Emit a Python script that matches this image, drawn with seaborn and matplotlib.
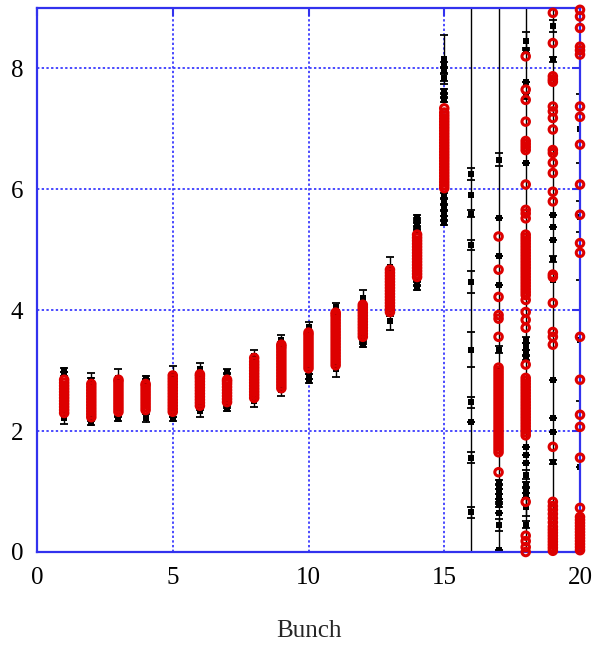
import matplotlib
matplotlib.use("Agg")
import matplotlib.pyplot as plt
import pandas as pd
import seaborn as sns

# ---------------------------------------------------------------------------
# Data: per-bunch measurements
# red_*   : values of the second method (open red circles)
# black_* : (value, error) pairs of the first method (black squares + error bars)
# ---------------------------------------------------------------------------
bunches = list(range(1, 21))

red_01 = [2.30, 2.35, 2.40, 2.45, 2.50, 2.55, 2.60, 2.65, 2.70, 2.75, 2.80, 2.85]
red_02 = [2.23, 2.28, 2.33, 2.38, 2.43, 2.48, 2.53, 2.58, 2.63, 2.68, 2.73, 2.78]
red_03 = [2.32, 2.37, 2.42, 2.47, 2.52, 2.57, 2.62, 2.67, 2.72, 2.77, 2.82, 2.85]
red_04 = [2.35, 2.40, 2.45, 2.50, 2.55, 2.60, 2.65, 2.70, 2.75, 2.78]
red_05 = [2.32, 2.37, 2.42, 2.47, 2.52, 2.57, 2.62, 2.67, 2.72, 2.77, 2.82, 2.87, 2.92]
red_06 = [2.42, 2.47, 2.52, 2.57, 2.62, 2.67, 2.72, 2.77, 2.82, 2.87, 2.91, 2.94]
red_07 = [2.48, 2.53, 2.58, 2.63, 2.68, 2.73, 2.78, 2.82, 2.85]
red_08 = [2.55, 2.60, 2.65, 2.70, 2.75, 2.80, 2.85, 2.90, 2.95, 3.00, 3.05, 3.10, 3.15, 3.21]
red_09 = [2.71, 2.76, 2.81, 2.86, 2.91, 2.96, 3.01, 3.06, 3.11, 3.16, 3.21, 3.26,
          3.31, 3.36, 3.40, 3.43]
red_10 = [3.04, 3.09, 3.14, 3.19, 3.24, 3.29, 3.34, 3.39, 3.44, 3.49, 3.54, 3.59, 3.63]
red_11 = [3.09, 3.14, 3.19, 3.24, 3.29, 3.34, 3.39, 3.44, 3.49, 3.54, 3.59, 3.64,
          3.69, 3.74, 3.79, 3.84, 3.89, 3.93, 3.96]
red_12 = [3.56, 3.61, 3.66, 3.71, 3.76, 3.81, 3.86, 3.91, 3.96, 4.01, 4.05, 4.09]
red_13 = [3.97, 4.02, 4.07, 4.12, 4.17, 4.22, 4.27, 4.32, 4.37, 4.42, 4.47, 4.52,
          4.57, 4.62, 4.67]
red_14 = [4.55, 4.60, 4.65, 4.70, 4.75, 4.80, 4.85, 4.90, 4.95, 5.00, 5.05, 5.10,
          5.15, 5.20, 5.25]
red_15 = [6.02, 6.07, 6.12, 6.17, 6.22, 6.27, 6.32, 6.37, 6.42, 6.47, 6.52, 6.57,
          6.62, 6.67, 6.72, 6.77, 6.82, 6.87, 6.92, 6.97, 7.02, 7.07, 7.12, 7.17,
          7.22, 7.27, 7.34]
red_16 = []
red_17 = [5.22, 4.67, 4.22, 3.92, 3.86, 3.56,
          3.05, 3.00, 2.95, 2.90, 2.85, 2.80, 2.75, 2.70, 2.65, 2.60, 2.55, 2.50,
          2.45, 2.40, 2.35, 2.30, 2.25, 2.20, 2.15, 2.10, 2.05, 2.00, 1.95, 1.90,
          1.85, 1.80, 1.75, 1.70, 1.65, 1.32]
red_18 = [8.20, 7.65, 7.48, 7.12, 6.80, 6.75, 6.70, 6.65, 6.08, 5.66, 5.60, 5.52,
          5.25, 5.20, 5.15, 5.10, 5.05, 5.00, 4.95, 4.90, 4.85, 4.80, 4.75, 4.70,
          4.65, 4.60, 4.55, 4.50, 4.45, 4.40, 4.35, 4.30, 4.25, 4.17,
          3.97, 3.84, 3.71, 3.10,
          2.88, 2.83, 2.78, 2.73, 2.68, 2.63, 2.58, 2.53, 2.48, 2.43, 2.38, 2.33,
          2.28, 2.23, 2.18, 2.13, 2.08, 2.03, 1.98, 1.93,
          0.83, 0.27, 0.18, 0.08, 0.00]
red_19 = [8.92, 8.42, 7.87, 7.82, 7.78, 7.37, 7.29, 7.18, 6.99, 6.65, 6.60, 6.44,
          6.27, 5.96, 5.80, 4.59, 4.55, 4.12, 3.64, 3.56, 3.43, 1.74,
          0.83, 0.76, 0.70, 0.63, 0.56, 0.49, 0.42, 0.37, 0.32, 0.27, 0.22, 0.17,
          0.12, 0.07, 0.02]
red_20 = [8.97, 8.86, 8.67, 8.36, 8.30, 8.23, 7.37, 7.20, 6.74, 6.08, 5.58, 5.11,
          4.95, 3.56, 2.85, 2.27, 2.07, 1.56, 0.73,
          0.58, 0.53, 0.48, 0.43, 0.38, 0.33, 0.28, 0.23, 0.18, 0.13, 0.08, 0.03]

black_01 = [(3.01, 0.03), (2.95, 0.03), (2.60, 0.04), (2.40, 0.05), (2.22, 0.10)]
black_02 = [(2.84, 0.12), (2.80, 0.08), (2.50, 0.05), (2.20, 0.04), (2.14, 0.04)]
black_03 = [(2.88, 0.15), (2.60, 0.05), (2.30, 0.05), (2.20, 0.04)]
black_04 = [(2.88, 0.04), (2.82, 0.04), (2.70, 0.04), (2.45, 0.05), (2.22, 0.07)]
black_05 = [(2.95, 0.12), (2.85, 0.05), (2.60, 0.05), (2.28, 0.05), (2.20, 0.04)]
black_06 = [(3.02, 0.10), (2.90, 0.05), (2.70, 0.05), (2.40, 0.05), (2.33, 0.09)]
black_07 = [(2.98, 0.04), (2.92, 0.04), (2.65, 0.05), (2.43, 0.05), (2.37, 0.04)]
black_08 = [(3.24, 0.10), (3.15, 0.05), (2.85, 0.05), (2.62, 0.05), (2.50, 0.10)]
black_09 = [(3.50, 0.09), (3.42, 0.05), (3.05, 0.05), (2.75, 0.05), (2.68, 0.10)]
black_10 = [(3.72, 0.09), (3.60, 0.05), (3.30, 0.05), (3.00, 0.05), (2.90, 0.04),
            (2.83, 0.04)]
black_11 = [(4.05, 0.07), (3.95, 0.05), (3.50, 0.05), (3.15, 0.05), (3.03, 0.13)]
black_12 = [(4.20, 0.14), (4.05, 0.05), (3.80, 0.05), (3.55, 0.04), (3.48, 0.04),
            (3.43, 0.04)]
black_13 = [(4.72, 0.16), (4.60, 0.05), (4.30, 0.05), (3.95, 0.05), (3.82, 0.14)]
black_14 = [(5.54, 0.04), (5.48, 0.04), (5.42, 0.04), (5.36, 0.04), (5.30, 0.04),
            (5.00, 0.05), (4.70, 0.05), (4.50, 0.04), (4.44, 0.04), (4.37, 0.04)]
black_15 = [(8.15, 0.41), (8.05, 0.05), (7.98, 0.05), (7.85, 0.05), (7.62, 0.04),
            (7.55, 0.04), (7.48, 0.04), (6.70, 0.05), (5.90, 0.04), (5.80, 0.04),
            (5.70, 0.04), (5.60, 0.04), (5.52, 0.04), (5.45, 0.04)]
black_16 = [(5.90, 6.00), (6.25, 0.10), (5.60, 0.05), (5.08, 0.08), (4.47, 0.18),
            (3.35, 0.29), (2.48, 0.09), (2.15, 0.00), (1.56, 0.09), (0.66, 0.09)]
black_17 = [(3.00, 6.50), (6.49, 0.11), (5.53, 0.00), (4.89, 0.00), (4.42, 0.00),
            (3.35, 0.05), (1.15, 0.04), (1.08, 0.04), (1.00, 0.04), (0.92, 0.04),
            (0.84, 0.04), (0.78, 0.04), (0.65, 0.00), (0.45, 0.10), (0.03, 0.00)]
black_18 = [(4.50, 6.00), (8.45, 0.15), (8.30, 0.04), (7.78, 0.00), (7.55, 0.05),
            (6.44, 0.00), (3.50, 0.05), (3.40, 0.05), (3.30, 0.05), (3.22, 0.04),
            (1.74, 0.00), (1.60, 0.00), (1.47, 0.00), (1.28, 0.08), (1.12, 0.04),
            (1.02, 0.04), (0.94, 0.04), (0.75, 0.15), (0.45, 0.06)]
black_19 = [(4.50, 6.00), (8.70, 0.10), (8.15, 0.04), (5.58, 0.00), (5.38, 0.00),
            (5.17, 0.00), (4.85, 0.05), (2.85, 0.00), (2.22, 0.00), (1.99, 0.00),
            (1.49, 0.04)]
black_20 = [(7.00, 0.57), (5.55, 0.25), (3.50, 1.00), (1.41, 0.00)]

red_series = [red_01, red_02, red_03, red_04, red_05, red_06, red_07, red_08, red_09,
              red_10, red_11, red_12, red_13, red_14, red_15, red_16, red_17, red_18,
              red_19, red_20]
black_series = [black_01, black_02, black_03, black_04, black_05, black_06, black_07,
                black_08, black_09, black_10, black_11, black_12, black_13, black_14,
                black_15, black_16, black_17, black_18, black_19, black_20]

x_ticks = [0, 5, 10, 15, 20]
y_ticks = [0, 2, 4, 6, 8]

red_df = pd.DataFrame(
    [(b, v) for b, vals in zip(bunches, red_series) for v in vals],
    columns=["Bunch", "value"],
)
black_df = pd.DataFrame(
    [(b, v, e) for b, vals in zip(bunches, black_series) for v, e in vals],
    columns=["Bunch", "value", "err"],
)

# ---------------------------------------------------------------------------
# Style
# ---------------------------------------------------------------------------
sns.set_style("white")
plt.rcParams["font.family"] = ["Liberation Serif", "DejaVu Serif"]

FRAME_BLUE = "#3232ee"
GRID_BLUE = "#3c3cff"
RED = "#dd0000"

fig = plt.figure(figsize=(5.92, 6.45), dpi=100)
ax = fig.add_axes([37 / 592, 1 - 552 / 645, 543 / 592, 544 / 645])

# black series: error bars, then square markers
ax.errorbar(black_df["Bunch"], black_df["value"], yerr=black_df["err"], fmt="none",
            ecolor="black", elinewidth=1.0, capsize=3.0, capthick=1.3, zorder=2)
sns.scatterplot(data=black_df, x="Bunch", y="value", marker="s", s=20,
                color="black", linewidth=0, ax=ax, zorder=2.2, legend=False)

# red series: open circles, drawn above the frame
sns.scatterplot(data=red_df, x="Bunch", y="value", marker="o", s=29,
                facecolors="none", edgecolor=RED, linewidth=2.2, ax=ax,
                zorder=3, clip_on=False, legend=False)

ax.set_xlim(0, 20)
ax.set_ylim(0, 9)
ax.set_xticks(x_ticks)
ax.set_yticks(y_ticks)
ax.set_xticklabels([str(t) for t in x_ticks])
ax.set_yticklabels([str(t) for t in y_ticks])

ax.set_axisbelow(True)
ax.grid(True, color=GRID_BLUE, linestyle=(0, (1.3, 1.3)), linewidth=1.3)

for spine in ax.spines.values():
    spine.set_color(FRAME_BLUE)
    spine.set_linewidth(1.6)

ax.tick_params(axis="both", direction="in", length=6, width=1.5, color=FRAME_BLUE,
               top=True, right=True, labelsize=18, labelcolor="black", pad=10)
ax.tick_params(axis="x", pad=11)

ax.set_xlabel("Bunch", fontsize=18, labelpad=22)
ax.set_ylabel("")

fig.savefig("out.png", dpi=100)
